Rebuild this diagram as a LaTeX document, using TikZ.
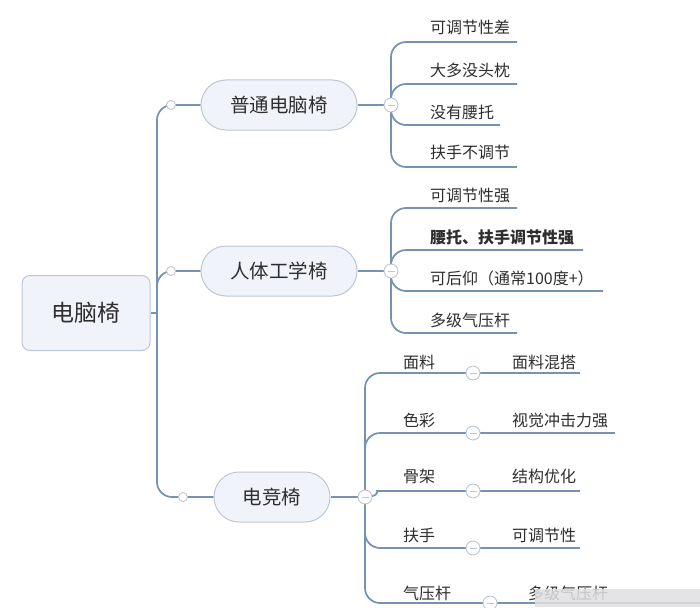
\documentclass[tikz,border=0pt]{standalone}
\usepackage{fontspec}
\setmainfont{Noto Sans CJK SC}
\definecolor{ln}{HTML}{7592B1}
\definecolor{nf}{HTML}{F0F4FA}
\definecolor{nd}{HTML}{BDC7D4}
\definecolor{tx}{HTML}{2E2E2E}
\pgfdeclarelayer{bg}
\pgfsetlayers{bg,main}
\begin{document}
\begin{tikzpicture}[x=1pt,y=-1pt,
  conn/.style={draw=ln, line width=1.7pt, rounded corners=15pt},
  leaf/.style={text=tx, font=\fontsize{16}{16}\selectfont, anchor=base west, inner sep=0pt},
  rootbox/.style={draw=nd, line width=1pt, fill=nf, rounded corners=8pt, minimum width=128pt, minimum height=75pt, text=tx, font=\fontsize{23}{23}\selectfont},
  pill/.style={draw=nd, line width=1pt, fill=nf, rounded corners=25pt, minimum height=50pt, text=tx, font=\fontsize{19.5}{19.5}\selectfont},
  minus/.style={circle, draw=nd, line width=0.9pt, fill=white, minimum size=14pt, inner sep=0pt,
    path picture={\draw[nd, line width=0.8pt] ([xshift=-3.5pt]path picture bounding box.center) -- ([xshift=3.5pt]path picture bounding box.center);}},
  dot/.style={circle, draw=nd, line width=0.9pt, fill=white, minimum size=9pt, inner sep=0pt}
]
\useasboundingbox (0,0) rectangle (700,607);

% main nodes
\node[rootbox] (root) at (86,313) {电脑椅};
\node[pill, minimum width=156pt] (pu) at (279,105) {普通电脑椅};
\node[pill, minimum width=156pt] (rt) at (279,271) {人体工学椅};
\node[pill, minimum width=116pt] (dj) at (272,497) {电竞椅};

% junction dots
\node[dot] (s1) at (171,105) {};
\node[dot] (s2) at (171,271) {};
\node[dot] (s3) at (183,497) {};
\coordinate (tA) at (157,105);
\coordinate (tB) at (157,497);
\coordinate (tC) at (157,300);

% collapse circles
\node[minus] (m1) at (391,105) {};
\node[minus] (m2) at (391,271) {};
\node[minus] (m3) at (365,497) {};

% leaf line ends, 普通
\coordinate (a1) at (517,42);
\coordinate (a2) at (517,84);
\coordinate (a3) at (500,125);
\coordinate (a4) at (517,167);
% 人体
\coordinate (b1) at (517,208);
\coordinate (b2) at (583,250);
\coordinate (b3) at (603,291);
\coordinate (b4) at (517,333);

% 电竞 sub circles
\node[minus] (f1) at (473,373) {};
\node[minus] (f2) at (473,433) {};
\node[minus] (f3) at (473,491) {};
\node[minus] (f4) at (473,548) {};
\node[minus] (f5) at (490,603) {};
\coordinate (g1) at (580,373);
\coordinate (g2) at (615,433);
\coordinate (g3) at (580,491);
\coordinate (g4) at (580,548);
\coordinate (g5) at (700,603);
\coordinate (h3) at (392,491);

% texts
\node[leaf] (p1) at (430,34) {可调节性差};
\node[leaf] (p2) at (430,77) {大多没头枕};
\node[leaf] (p3) at (430,118) {没有腰托};
\node[leaf] (p4) at (430,158) {扶手不调节};

\node[leaf] (r1) at (430,201) {可调节性强};
\node[leaf, font=\fontsize{16}{16}\selectfont\bfseries] (r2) at (430,243) {腰托、扶手调节性强};
\node[leaf] (r3) at (430,284) {可后仰（通常100度+）};
\node[leaf] (r4) at (430,326) {多级气压杆};

\node[leaf] (d1) at (403,368) {面料};
\node[leaf] (d2) at (403,426) {色彩};
\node[leaf] (d3) at (403,482) {骨架};
\node[leaf] (d4) at (403,541) {扶手};
\node[leaf] (d5) at (403,599) {气压杆};

\node[leaf] (e1) at (512,368) {面料混搭};
\node[leaf] (e2) at (512,426) {视觉冲击力强};
\node[leaf] (e3) at (512,482) {结构优化};
\node[leaf] (e4) at (512,541) {可调节性};
\node[leaf] (e5) at (528,599) {多级气压杆};

\begin{pgfonlayer}{bg}
  \fill[white] (0,0) rectangle (700,607);
  % trunk
  \draw[conn] (pu.west) -- (tA) -- (tB) -- (dj.west);
  \draw[conn] (root.east) -- (root.east -| tA);
  \draw[conn] (rt.west) -- (s2.center -| tA) -- (tC);
  % branch to collapse circles
  \draw[conn] (pu.east) -- (m1.center);
  \draw[conn] (rt.east) -- (m2.center);
  \draw[conn] (dj.east) -- (m3.center);
  % leaves
  \foreach \e in {a1,a2,a3,a4} \draw[conn] (m1.center) |- (\e);
  \foreach \e in {b1,b2,b3,b4} \draw[conn] (m2.center) |- (\e);
  \draw[conn] (m3.center) |- (f1.center);
  \draw[conn] (m3.center) |- (f2.center);
  \draw[conn] (m3.center) .. controls (378,497) and (378,491) .. (h3) -- (f3.center);
  \draw[conn] (m3.center) |- (f4.center);
  \draw[conn] (m3.center) |- (f5.center);
  \draw[conn] (f1.center) -- (g1);
  \draw[conn] (f2.center) -- (g2);
  \draw[conn] (f3.center) -- (g3);
  \draw[conn] (f4.center) -- (g4);
  \draw[conn] (f5.center) -- (g5);
\end{pgfonlayer}

% faint overlay at lower right
\fill[black!12, opacity=0.85] (535,589) rectangle (700,607);
\end{tikzpicture}
\end{document}
